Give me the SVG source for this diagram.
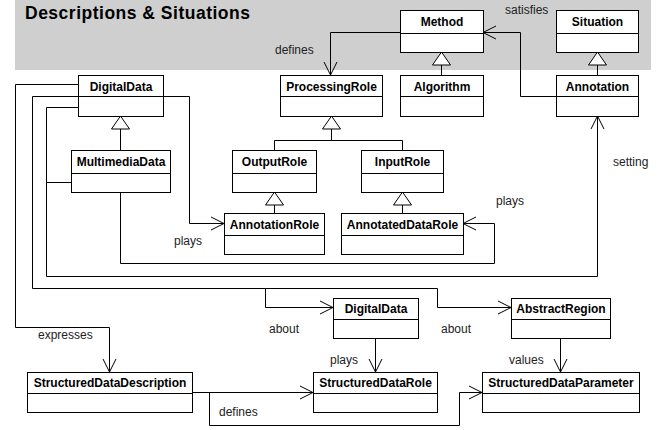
<svg xmlns="http://www.w3.org/2000/svg" width="670" height="430" viewBox="0 0 670 430">
<style>
.box{fill:#fff;stroke:#000;stroke-width:1}
.t{font-family:"Liberation Sans",Arial,sans-serif;font-size:12px;font-weight:bold;fill:#000;text-anchor:middle}
.l{font-family:"Liberation Sans",Arial,sans-serif;font-size:12px;fill:#222}
.c{fill:none;stroke:#000;stroke-width:1}
</style>
<defs>
<marker id="open" markerUnits="userSpaceOnUse" markerWidth="16" markerHeight="16" refX="13" refY="7" orient="auto" overflow="visible">
<path d="M0,0.5 L13,7 L0,13.5" fill="none" stroke="#000" stroke-width="1"/>
</marker>
<marker id="gen" markerUnits="userSpaceOnUse" markerWidth="16" markerHeight="20" refX="13" refY="9" orient="auto" overflow="visible">
<path d="M0,0 L13,9 L0,18 Z" fill="#fff" stroke="#000" stroke-width="1"/>
</marker>
</defs>
<rect x="15" y="0" width="636" height="70" fill="#cfcfcf"/>
<text x="25" y="19" font-family="'Liberation Sans',Arial,sans-serif" font-size="17.5" font-weight="bold" letter-spacing="0.5" fill="#000">Descriptions &amp; Situations</text>

<g id="connectors">
<path class="c" d="M400.5,32.5 H330.5 V75" marker-end="url(#open)"/>
<path class="c" d="M556,96.5 H520.5 V32.5 H483" marker-end="url(#open)"/>
<path class="c" d="M441.5,75 V52" marker-end="url(#gen)"/>
<path class="c" d="M597.5,75 V52" marker-end="url(#gen)"/>
<path class="c" d="M120.5,150 V116" marker-end="url(#gen)"/>
<path class="c" d="M274.5,150 V140.5 H402.5 V150"/>
<path class="c" d="M331.5,140.5 V116" marker-end="url(#gen)"/>
<path class="c" d="M274.5,213 V192" marker-end="url(#gen)"/>
<path class="c" d="M402.5,213 V192" marker-end="url(#gen)"/>
<path class="c" d="M163,96.5 H189.5 V223.5 H224" marker-end="url(#open)"/>
<path class="c" d="M120.5,192 V263.5 H494.5 V223.5 H463" marker-end="url(#open)"/>
<path class="c" d="M78,107.5 H46.5 V276.5 H597.5 V116" marker-end="url(#open)"/>
<path class="c" d="M71,182.5 H46.5"/>
<path class="c" d="M78,96.5 H32.5 V288.5 H265.5 V307.5 H333" marker-end="url(#open)"/>
<path class="c" d="M265.5,288.5 H437.5 V307.5 H511" marker-end="url(#open)"/>
<path class="c" d="M78,84.5 H15.5 V327.5 H109.5 V372" marker-end="url(#open)"/>
<path class="c" d="M375.5,338 V372" marker-end="url(#open)"/>
<path class="c" d="M560.5,338 V372" marker-end="url(#open)"/>
<path class="c" d="M192,392.5 H313" marker-end="url(#open)"/>
<path class="c" d="M209.5,392.5 V425.5 H459.5 V392.5 H482" marker-end="url(#open)"/>
</g>

<g id="labels">
<text class="l" x="275" y="53.5">defines</text>
<text class="l" x="505" y="13.5">satisfies</text>
<text class="l" x="174" y="245">plays</text>
<text class="l" x="496" y="205">plays</text>
<text class="l" x="613" y="166">setting</text>
<text class="l" x="38" y="339">expresses</text>
<text class="l" x="269" y="333">about</text>
<text class="l" x="441" y="333">about</text>
<text class="l" x="330" y="364">plays</text>
<text class="l" x="509" y="364">values</text>
<text class="l" x="219" y="416">defines</text>
</g>

<g id="Method"><rect class="box" x="400.5" y="10.5" width="83" height="42"/><line class="c" x1="400.5" y1="33.5" x2="483.5" y2="33.5"/><text class="t" x="442" y="26">Method</text></g>
<g id="Situation"><rect class="box" x="556.5" y="10.5" width="82" height="42"/><line class="c" x1="556.5" y1="33.5" x2="638.5" y2="33.5"/><text class="t" x="597.5" y="26">Situation</text></g>
<g id="DigitalData"><rect class="box" x="78.5" y="75.5" width="85" height="41"/><line class="c" x1="78.5" y1="96.5" x2="163.5" y2="96.5"/><text class="t" x="121" y="91">DigitalData</text></g>
<g id="ProcessingRole"><rect class="box" x="280.5" y="75.5" width="102" height="41"/><line class="c" x1="280.5" y1="96.5" x2="382.5" y2="96.5"/><text class="t" x="331.5" y="91">ProcessingRole</text></g>
<g id="Algorithm"><rect class="box" x="400.5" y="75.5" width="83" height="41"/><line class="c" x1="400.5" y1="96.5" x2="483.5" y2="96.5"/><text class="t" x="442" y="91">Algorithm</text></g>
<g id="Annotation"><rect class="box" x="556.5" y="75.5" width="82" height="41"/><line class="c" x1="556.5" y1="96.5" x2="638.5" y2="96.5"/><text class="t" x="597.5" y="91">Annotation</text></g>
<g id="MultimediaData"><rect class="box" x="71.5" y="150.5" width="99" height="42"/><line class="c" x1="71.5" y1="173.5" x2="170.5" y2="173.5"/><text class="t" x="121" y="166">MultimediaData</text></g>
<g id="OutputRole"><rect class="box" x="232.5" y="150.5" width="84" height="42"/><line class="c" x1="232.5" y1="173.5" x2="316.5" y2="173.5"/><text class="t" x="274.5" y="166">OutputRole</text></g>
<g id="InputRole"><rect class="box" x="361.5" y="150.5" width="82" height="42"/><line class="c" x1="361.5" y1="173.5" x2="443.5" y2="173.5"/><text class="t" x="402.5" y="166">InputRole</text></g>
<g id="AnnotationRole"><rect class="box" x="224.5" y="213.5" width="100" height="41"/><line class="c" x1="224.5" y1="235.5" x2="324.5" y2="235.5"/><text class="t" x="274.5" y="229">AnnotationRole</text></g>
<g id="AnnotatedDataRole"><rect class="box" x="341.5" y="213.5" width="122" height="41"/><line class="c" x1="341.5" y1="235.5" x2="463.5" y2="235.5"/><text class="t" x="402.5" y="229">AnnotatedDataRole</text></g>
<g id="DigitalData2"><rect class="box" x="333.5" y="298.5" width="85" height="40"/><line class="c" x1="333.5" y1="319.5" x2="418.5" y2="319.5"/><text class="t" x="376" y="313">DigitalData</text></g>
<g id="AbstractRegion"><rect class="box" x="511.5" y="298.5" width="99" height="40"/><line class="c" x1="511.5" y1="319.5" x2="610.5" y2="319.5"/><text class="t" x="561" y="313">AbstractRegion</text></g>
<g id="StructuredDataDescription"><rect class="box" x="27.5" y="372.5" width="165" height="40"/><line class="c" x1="27.5" y1="393.5" x2="192.5" y2="393.5"/><text class="t" x="110" y="387">StructuredDataDescription</text></g>
<g id="StructuredDataRole"><rect class="box" x="313.5" y="372.5" width="124" height="40"/><line class="c" x1="313.5" y1="393.5" x2="437.5" y2="393.5"/><text class="t" x="375.5" y="387">StructuredDataRole</text></g>
<g id="StructuredDataParameter"><rect class="box" x="482.5" y="372.5" width="157" height="40"/><line class="c" x1="482.5" y1="393.5" x2="639.5" y2="393.5"/><text class="t" x="561" y="387">StructuredDataParameter</text></g>
</svg>
